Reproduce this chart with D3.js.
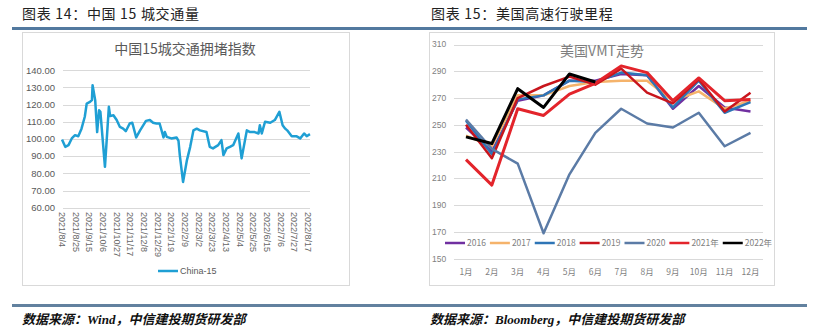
<!DOCTYPE html>
<html><head><meta charset="utf-8">
<script src="https://cdn.jsdelivr.net/npm/d3@7"></script>
<style>body{margin:0;background:#fff;} svg{display:block;}</style>
</head><body>
<svg id="c" width="825" height="335"></svg>
<script>
// ---------- Data: China 15-city congestion index ----------
const chinaDates = ["2021-08-04","2021-08-09","2021-08-14","2021-08-19","2021-08-24","2021-08-29","2021-09-03","2021-09-08","2021-09-11","2021-09-16","2021-09-19","2021-09-20","2021-09-24","2021-09-27","2021-09-30","2021-10-02","2021-10-09","2021-10-15","2021-10-17","2021-10-22","2021-10-27","2021-11-01","2021-11-06","2021-11-10","2021-11-16","2021-11-20","2021-11-26","2021-12-02","2021-12-07","2021-12-11","2021-12-17","2021-12-22","2021-12-27","2022-01-01","2022-01-07","2022-01-09","2022-01-12","2022-01-19","2022-01-27","2022-01-30","2022-02-01","2022-02-06","2022-02-12","2022-02-17","2022-02-22","2022-02-27","2022-03-04","2022-03-14","2022-03-19","2022-03-24","2022-04-01","2022-04-06","2022-04-09","2022-04-14","2022-04-19","2022-04-24","2022-05-02","2022-05-07","2022-05-15","2022-05-20","2022-05-27","2022-06-02","2022-06-04","2022-06-07","2022-06-12","2022-06-20","2022-06-27","2022-07-04","2022-07-09","2022-07-13","2022-07-16","2022-07-23","2022-07-30","2022-08-05","2022-08-11","2022-08-15","2022-08-20"];
const chinaValues = [99.7,95.4,96.4,100.3,102.2,101.6,106,112.9,120.6,121.6,122.6,131.3,122.6,104,116.7,115.8,83.8,118.7,113.3,113.8,111,107,106,104.5,109,109.4,100.9,105,108,110.5,111,109.4,109,109,100.9,104,101.2,100.3,100.9,98.9,90.6,75,87.7,95.4,105,106,105,104,95.4,94.5,96.4,99.3,90.6,94.5,95.4,96.4,103.2,88.7,105,104,104,103.2,108,103.2,110,109.4,111,115.8,108,106,105,101.6,101.6,100.3,103.2,101.6,102.8];
const chinaTickLabels = ["2021/8/4","2021/8/25","2021/9/15","2021/10/6","2021/10/27","2021/11/17","2021/12/8","2021/12/29","2022/1/19","2022/2/9","2022/3/2","2022/3/23","2022/4/13","2022/5/4","2022/5/25","2022/6/15","2022/7/6","2022/7/27","2022/8/17"];
const chinaYTicks = [60,70,80,90,100,110,120,130,140];
const chinaSeriesName = "China-15";

// ---------- Data: US VMT ----------
const months = ["1月","2月","3月","4月","5月","6月","7月","8月","9月","10月","11月","12月"];
const vmtYTicks = [150,170,190,210,230,250,270,290,310];
const vmtNames = ["2016","2017","2018","2019","2020","2021年","2022年"];
const vmt2016 = [248,230,268,272,283,283,288,287,262,279,263,260];
const vmt2017 = [242,234,272,272,279,282,283,283,268,275,262,268];
const vmt2018 = [253,228,269,272,283,282,289,287,263,283,259,267];
const vmt2019 = [250,225,270,279,286,280,292,274,266,284,260,274];
const vmt2020 = [254,232,221,169,213,244,262,251,248,259,234,244];
const vmt2021 = [224,205,262,257,273,281,294,289,268,285,268,269];
const vmt2022 = [241,236,277,263,288,282];

const svg = d3.select("#c");
const CJK = "'Noto Sans CJK SC', 'Liberation Sans', sans-serif";

// ---------- Page frame ----------
svg.append("text").attr("x",22).attr("y",19).attr("font-family",CJK).attr("font-size",14).attr("letter-spacing",0.7).attr("fill","#222").text("图表 14：中国 15 城交通量");
svg.append("text").attr("x",431).attr("y",19).attr("font-family",CJK).attr("font-size",14).attr("letter-spacing",0.7).attr("fill","#222").text("图表 15：美国高速行驶里程");
svg.append("rect").attr("x",12).attr("y",27).attr("width",795).attr("height",3).attr("fill","#52799f");
svg.append("rect").attr("x",12).attr("y",304).attr("width",795).attr("height",3).attr("fill","#62819f");
const foot = (x, t) => svg.append("text").attr("x",x).attr("y",324).attr("font-family","'Liberation Serif', 'Noto Sans CJK SC', serif").attr("font-size",13).attr("font-weight","bold").attr("font-style","italic").attr("fill","#111").text(t);
foot(22,"数据来源：Wind，中信建投期货研发部");
foot(430,"数据来源：Bloomberg，中信建投期货研发部");

// ---------- Left chart ----------
const L = svg.append("g");
L.append("rect").attr("x",22.5).attr("y",32.5).attr("width",327).attr("height",253).attr("fill","#fff").attr("stroke","#d9d9d9");
L.append("text").attr("x",185).attr("y",54).attr("text-anchor","middle").attr("font-family",CJK).attr("font-size",14).attr("fill","#595959").text("中国15城交通拥堵指数");
const parse = d3.timeParse("%Y-%m-%d");
const tickDates = chinaTickLabels.map(s => d3.timeParse("%Y/%m/%d")(s));
const xL = d3.scaleTime().domain([tickDates[0], tickDates[tickDates.length-1]]).range([62, 308]);
const yL = d3.scaleLinear().domain([60,140]).range([207.7, 70.2]);
L.append("g").selectAll("line").data(chinaYTicks).join("line")
  .attr("x1",63).attr("x2",310).attr("y1",d=>Math.round(yL(d))+0.5).attr("y2",d=>Math.round(yL(d))+0.5)
  .attr("stroke","#d9d9d9").attr("stroke-width",1);
L.append("g").selectAll("text").data(chinaYTicks).join("text")
  .attr("x",55).attr("y",d=>yL(d)).attr("dy","0.35em").attr("text-anchor","end")
  .attr("font-family","'Liberation Sans', Arial, sans-serif").attr("font-size",9.5).attr("fill","#595959")
  .text(d=>d3.format(".2f")(d));
L.append("g").selectAll("text").data(chinaTickLabels).join("text")
  .attr("transform",(d,i)=>`translate(${xL(tickDates[i])},212) rotate(90)`)
  .attr("dy","0.35em").attr("text-anchor","start")
  .attr("font-family","'Liberation Sans', Arial, sans-serif").attr("font-size",9).attr("fill","#666")
  .text(d=>d);
const lineL = d3.line().x((d,i)=>xL(parse(chinaDates[i]))).y(d=>yL(d));
L.append("path").datum(chinaValues).attr("d",lineL).attr("fill","none").attr("stroke","#1f9fd4").attr("stroke-width",2.5).attr("stroke-linejoin","round");
L.append("line").attr("x1",158).attr("x2",178).attr("y1",271).attr("y2",271).attr("stroke","#1f9fd4").attr("stroke-width",2.5);
L.append("text").attr("x",180).attr("y",271).attr("dy","0.35em").attr("font-family","'Liberation Sans', Arial, sans-serif").attr("font-size",9).attr("fill","#595959").text(chinaSeriesName);

// ---------- Right chart ----------
const R = svg.append("g");
R.append("rect").attr("x",429.5).attr("y",32.5).attr("width",345).attr("height",253).attr("fill","#fff").attr("stroke","#d9d9d9");
const xR = d3.scalePoint().domain(months).range([466, 750.5]);
const yR = d3.scaleLinear().domain([150,310]).range([258.7, 44.5]);
R.append("g").selectAll("line").data(vmtYTicks).join("line")
  .attr("x1",454).attr("x2",763).attr("y1",d=>Math.round(yR(d))+0.5).attr("y2",d=>Math.round(yR(d))+0.5)
  .attr("stroke","#d9d9d9").attr("stroke-width",1);
R.append("g").selectAll("text").data(vmtYTicks).join("text")
  .attr("x",432).attr("y",d=>yR(d)).attr("dy","0.35em")
  .attr("font-family","'Liberation Sans', Arial, sans-serif").attr("font-size",8.5).attr("fill","#7f7f7f")
  .text(d=>d);
R.append("g").selectAll("text").data(months).join("text")
  .attr("x",d=>xR(d)).attr("y",272).attr("dy","0.35em").attr("text-anchor","middle")
  .attr("font-family",CJK).attr("font-size",8.5).attr("fill","#7f7f7f").text(d=>d);
R.append("text").attr("x",602).attr("y",56).attr("text-anchor","middle").attr("font-family",CJK).attr("font-size",14).attr("fill","#7f7f7f").text("美国VMT走势");
const series = [
  {name:vmtNames[0], v:vmt2016, c:"#7030a0", w:2.5},
  {name:vmtNames[1], v:vmt2017, c:"#f5b36b", w:2.5},
  {name:vmtNames[2], v:vmt2018, c:"#2e75b6", w:2.5},
  {name:vmtNames[3], v:vmt2019, c:"#c8151d", w:2.5},
  {name:vmtNames[4], v:vmt2020, c:"#5b7ba6", w:2.5},
  {name:vmtNames[5], v:vmt2021, c:"#e3242b", w:3},
  {name:vmtNames[6], v:vmt2022, c:"#000000", w:3}
];
const lineR = d3.line().x((d,i)=>xR(months[i])).y(d=>yR(d));
R.append("g").selectAll("path").data(series).join("path")
  .attr("d",s=>lineR(s.v)).attr("fill","none").attr("stroke",s=>s.c).attr("stroke-width",s=>s.w).attr("stroke-linejoin","round");
// legend
const lg = R.append("g");
let lx = 445;
series.forEach(s => {
  lg.append("line").attr("x1",lx).attr("x2",lx+20).attr("y1",243).attr("y2",243).attr("stroke",s.c).attr("stroke-width",2.5);
  const t = lg.append("text").attr("x",lx+22).attr("y",243).attr("dy","0.35em").attr("font-family",CJK).attr("font-size",8.5).attr("fill","#7f7f7f").text(s.name);
  lx += 22 + t.node().getComputedTextLength() + 4;
});
</script>
</body></html>
